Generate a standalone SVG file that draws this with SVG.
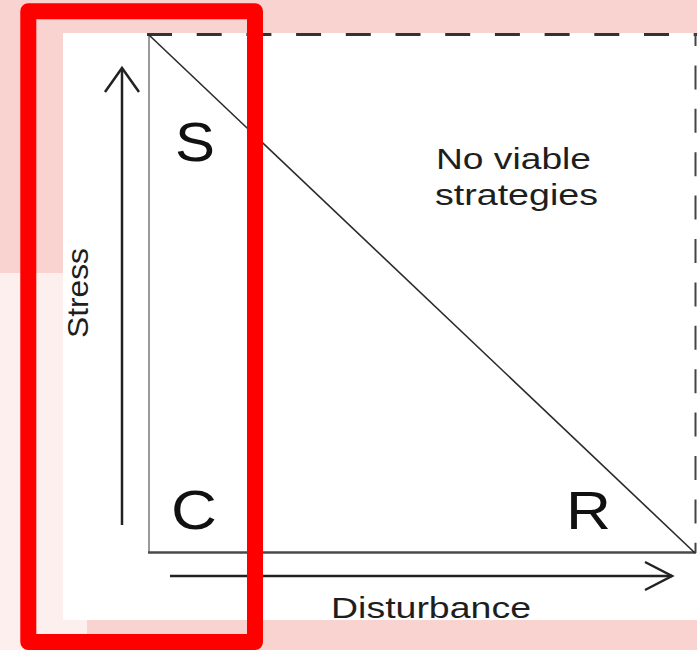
<svg xmlns="http://www.w3.org/2000/svg" width="697" height="650" viewBox="0 0 697 650">
  <style>
    .lbl { font-family: "Liberation Sans", Arial, sans-serif; fill: #1e1e1e; }
    .big { font-family: "Liberation Sans", Arial, sans-serif; fill: #111; }
    .ax { stroke: #222; stroke-width: 2.5; fill: none; stroke-linecap: butt; }
  </style>
  <defs>
    <marker id="head" viewBox="0 0 30 30" refX="28" refY="15" markerWidth="30" markerHeight="30" markerUnits="userSpaceOnUse" orient="auto">
      <polyline points="1,1 28,15 1,29" fill="none" stroke="#222" stroke-width="2.5"/>
    </marker>
  </defs>
  <!-- backgrounds -->
  <rect x="0" y="0" width="697" height="650" fill="#f9d3d0"/>
  <rect x="0" y="273" width="87" height="377" fill="#fdefed"/>
  <rect x="63" y="33" width="634" height="587" fill="#ffffff"/>

  <!-- frame of the plot -->
  <g id="frame">
    <line x1="149" y1="35" x2="149" y2="553" stroke="#9a9a9a" stroke-width="2"/>
    <line x1="148" y1="552.5" x2="696" y2="552.5" stroke="#4a4a4a" stroke-width="2.5"/>
    <line x1="147" y1="34.5" x2="697" y2="34.5" stroke="#333" stroke-width="3" stroke-dasharray="25 24.7"/>
    <line x1="695.5" y1="22" x2="695.5" y2="553" stroke="#444" stroke-width="2" stroke-dasharray="24 19.4"/>
    <line x1="149" y1="35" x2="695" y2="553" stroke="#2a2a2a" stroke-width="1.6"/>
  </g>
  <rect x="0" y="0" width="697" height="33" fill="#f9d3d0"/>

  <!-- axes arrows -->
  <g id="connectors">
    <line class="ax" x1="122" y1="525" x2="122" y2="69"/>
    <polyline class="ax" points="105,92 122,68 139,92"/>
    <line class="ax" x1="170" y1="576" x2="672" y2="576"/>
    <polyline class="ax" points="645,562 672,576 645,590"/>
  </g>

  <!-- labels -->
  <g id="stress-axis">
    <text class="lbl" font-size="30" transform="translate(88,338) rotate(-90)" textLength="90" lengthAdjust="spacingAndGlyphs">Stress</text>
  </g>
  <g id="disturbance-axis">
    <text class="lbl" font-size="29" x="331" y="618" textLength="200" lengthAdjust="spacingAndGlyphs">Disturbance</text>
  </g>
  <g id="node-S">
    <text class="big" font-size="55" x="175" y="161" textLength="40" lengthAdjust="spacingAndGlyphs">S</text>
  </g>
  <g id="node-C">
    <text class="big" font-size="55" x="171" y="529" textLength="46" lengthAdjust="spacingAndGlyphs">C</text>
  </g>
  <g id="node-R">
    <text class="big" font-size="53" x="566" y="529" textLength="45" lengthAdjust="spacingAndGlyphs">R</text>
  </g>
  <g id="no-viable">
    <text class="lbl" font-size="30" x="436" y="169" textLength="155" lengthAdjust="spacingAndGlyphs">No viable</text>
    <text class="lbl" font-size="30" x="435" y="205" textLength="163" lengthAdjust="spacingAndGlyphs">strategies</text>
  </g>

  <!-- red highlight frame -->
  <rect x="28.3" y="11.2" width="226.7" height="630.8" fill="none" stroke="#ff0000" stroke-width="16" stroke-linejoin="round"/>
</svg>
